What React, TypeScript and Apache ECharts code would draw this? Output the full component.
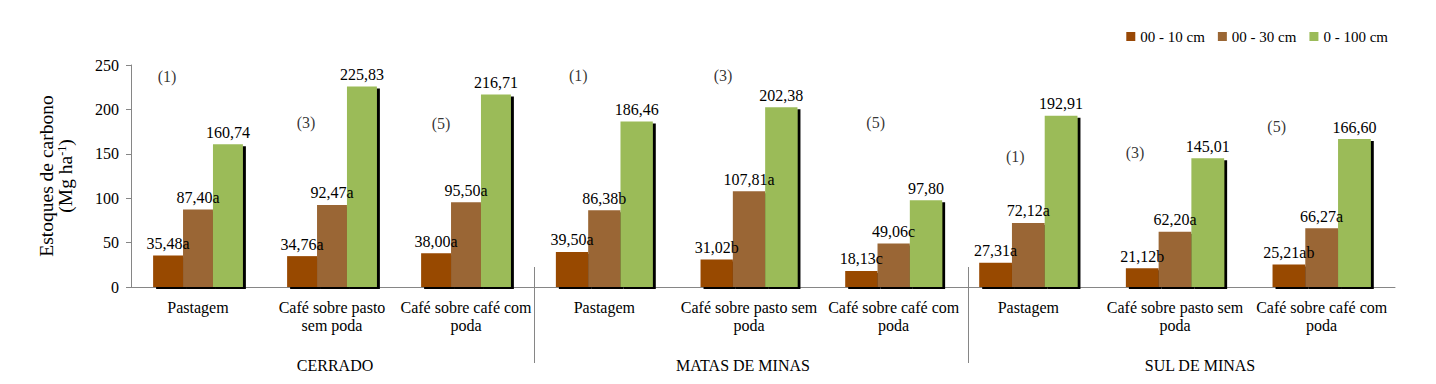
import React, { useEffect, useRef } from "react";
import * as echarts from "echarts";

const regions = ["CERRADO", "MATAS DE MINAS", "SUL DE MINAS"];
const categoriesCerrado = ["Pastagem", "Café sobre pasto\nsem poda", "Café sobre café com\npoda"];
const categoriesMatas = ["Pastagem", "Café sobre pasto sem\npoda", "Café sobre café com\npoda"];
const categoriesSul = ["Pastagem", "Café sobre pasto sem\npoda", "Café sobre café com\npoda"];
const seriesNames = ["00 - 10 cm", "00 - 30 cm", "0 - 100 cm"];
const yTicks = [0, 50, 100, 150, 200, 250];

const values10 = [35.48, 34.76, 38.0, 39.5, 31.02, 18.13, 27.31, 21.12, 25.21];
const letters10 = ["a", "a", "a", "a", "b", "c", "a", "b", "ab"];
const values30 = [87.4, 92.47, 95.5, 86.38, 107.81, 49.06, 72.12, 62.2, 66.27];
const letters30 = ["a", "a", "a", "b", "a", "c", "a", "a", "a"];
const values100 = [160.74, 225.83, 216.71, 186.46, 202.38, 97.8, 192.91, 145.01, 166.6];
const letters100 = ["", "", "", "", "", "", "", "", ""];

const notes = ["(1)", "(3)", "(5)", "(1)", "(3)", "(5)", "(1)", "(3)", "(5)"];
const noteValues = [237.6, 184.7, 183.6, 238.7, 238.7, 184.7, 146.4, 152, 181.3];
const noteOffsets = [-31, -26, -25, -26, -26, -18, -13, -40, -45];

const colors = ["#984806", "#9A6634", "#9BBB59"];
const FONT = "Liberation Serif";

const grids = [
  { left: 131, width: 402 },
  { left: 532, width: 434 },
  { left: 955, width: 440 },
];

const fmt = (v: number) => v.toFixed(2).replace(".", ",");

function buildOption() {
  const cats = [categoriesCerrado, categoriesMatas, categoriesSul];
  const vals = [values10, values30, values100];
  const lets = [letters10, letters30, letters100];
  const series: any[] = [];
  grids.forEach((g, gi) => {
    vals.forEach((arr, si) => {
      series.push({
        type: "bar",
        name: seriesNames[si],
        xAxisIndex: gi,
        yAxisIndex: gi,
        barGap: "0%",
        barCategoryGap: "33%",
        data: arr.slice(gi * 3, gi * 3 + 3).map((v, k) => ({ value: v, letter: lets[si][gi * 3 + k] })),
        itemStyle: {
          color: colors[si],
          shadowColor: "#000",
          shadowBlur: 0,
          shadowOffsetX: 3,
          shadowOffsetY: 2,
        },
        label: {
          show: true,
          position: "top",
          distance: 4,
          color: "#000",
          fontFamily: FONT,
          fontSize: 16,
          formatter: (p: any) => fmt(p.data.value) + p.data.letter,
        },
      });
    });
    series.push({
      type: "scatter",
      xAxisIndex: gi,
      yAxisIndex: gi,
      symbolSize: 0,
      silent: true,
      data: [0, 1, 2].map((k) => ({
        value: [k, noteValues[gi * 3 + k]],
        name: notes[gi * 3 + k],
        label: { offset: [noteOffsets[gi * 3 + k], 0] },
      })),
      label: {
        show: true,
        position: "inside",
        color: "#000",
        fontFamily: FONT,
        fontSize: 16,
        formatter: (p: any) => p.name,
      },
    });
  });

  return {
    animation: false,
    backgroundColor: "#fff",
    textStyle: { fontFamily: FONT },
    legend: {
      data: seriesNames,
      right: 43,
      top: 24,
      icon: "rect",
      itemWidth: 9,
      itemHeight: 9,
      itemGap: 13,
      textStyle: { fontFamily: FONT, fontSize: 15, color: "#000" },
    },
    grid: grids.map((g) => ({ left: g.left, width: g.width, top: 65, height: 222, outerBoundsMode: "none" })),
    xAxis: grids.map((g, gi) => ({
      type: "category",
      gridIndex: gi,
      data: cats[gi],
      axisLine: { show: true, lineStyle: { color: "#868686", width: 1 } },
      axisTick: { show: false },
      axisLabel: {
        interval: 0,
        margin: 11,
        color: "#000",
        fontFamily: FONT,
        fontSize: 16,
        lineHeight: 18,
      },
    })),
    yAxis: grids.map((g, gi) => ({
      type: "value",
      gridIndex: gi,
      min: yTicks[0],
      max: yTicks[yTicks.length - 1],
      interval: 50,
      show: gi === 0,
      splitLine: { show: false },
      axisLine: { show: true, lineStyle: { color: "#868686", width: 1 } },
      axisTick: { show: true, length: 5, lineStyle: { color: "#868686" } },
      axisLabel: { color: "#000", fontFamily: FONT, fontSize: 16, margin: 12 },
      name: gi === 0 ? "Estoques de carbono\n(Mg ha{sup|-1})" : "",
      nameLocation: "middle",
      nameRotate: 90,
      nameGap: 56,
      nameTextStyle: {
        color: "#000",
        fontFamily: FONT,
        fontSize: 19.5,
        lineHeight: 19,
        rich: {
          sup: { fontSize: 12, lineHeight: 12, verticalAlign: "top", fontFamily: FONT, color: "#000" },
        },
      },
    })),
    graphic: [
      { type: "line", shape: { x1: 534.5, y1: 267, x2: 534.5, y2: 363 }, style: { stroke: "#868686", lineWidth: 1 } },
      { type: "line", shape: { x1: 968.5, y1: 267, x2: 968.5, y2: 363 }, style: { stroke: "#868686", lineWidth: 1 } },
      ...[335, 743, 1200].map((x, i) => ({
        type: "text",
        x,
        y: 365,
        style: {
          text: regions[i],
          fill: "#000",
          font: `16px ${FONT}`,
          textAlign: "center",
          textVerticalAlign: "middle",
        },
      })),
    ],
    series,
  };
}

export default function App() {
  const ref = useRef<HTMLDivElement>(null);
  useEffect(() => {
    if (!ref.current) return;
    const chart = echarts.init(ref.current, null, { renderer: "svg" });
    chart.setOption(buildOption() as any);
    return () => chart.dispose();
  }, []);
  return <div ref={ref} style={{ position: "fixed", left: 0, top: 0, width: 1436, height: 384 }} />;
}
